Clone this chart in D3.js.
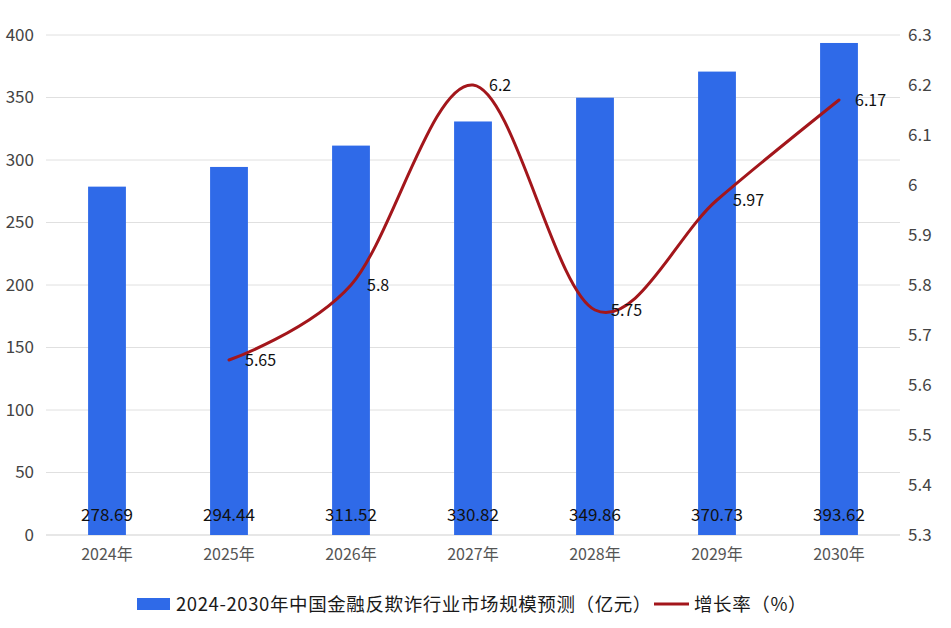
<!DOCTYPE html>
<html>
<head>
<meta charset="utf-8">
<script src="https://cdn.jsdelivr.net/npm/d3@7"></script>
<style>
  body { margin: 0; background: #fff; }
  text { font-family: "Noto Sans CJK SC", "Noto Sans", sans-serif; }
</style>
</head>
<body>
<div id="chart"></div>
<script>
// 数据
const years = ["2024年", "2025年", "2026年", "2027年", "2028年", "2029年", "2030年"];
const marketSize = [278.69, 294.44, 311.52, 330.82, 349.86, 370.73, 393.62];
const growthYears = ["2025年", "2026年", "2027年", "2028年", "2029年", "2030年"];
const growthRate = [5.65, 5.8, 6.2, 5.75, 5.97, 6.17];
const leftTicks = [0, 50, 100, 150, 200, 250, 300, 350, 400];
const rightTicks = [5.3, 5.4, 5.5, 5.6, 5.7, 5.8, 5.9, 6, 6.1, 6.2, 6.3];

const W = 951, H = 628;
const margin = { top: 35, right: 51, bottom: 93, left: 46 };
const width = W - margin.left - margin.right;
const height = H - margin.top - margin.bottom;

const svg = d3.select("#chart").append("svg")
    .attr("width", W)
    .attr("height", H);

const g = svg.append("g")
    .attr("transform", `translate(${margin.left},${margin.top})`);

// 比例尺
const x = d3.scaleBand().domain(years).range([0, width]).paddingInner(0.69).paddingOuter(0.345);
const yL = d3.scaleLinear().domain([0, 400]).range([height, 0]);
const yR = d3.scaleLinear().domain([5.3, 6.3]).range([height, 0]);

// 网格线
g.append("g").selectAll("line")
    .data(leftTicks)
    .enter().append("line")
    .attr("x1", 0).attr("x2", width)
    .attr("y1", d => yL(d)).attr("y2", d => yL(d))
    .attr("stroke", d => d === 0 ? "#cfcfcf" : "#e0e0e0")
    .attr("stroke-width", 1);

// 左轴
const axisL = g.append("g")
    .call(d3.axisLeft(yL).tickValues(leftTicks).tickSize(0).tickPadding(12));
axisL.select(".domain").remove();
axisL.selectAll("text").attr("font-size", 17).attr("fill", "#444");

// 右轴
const axisR = g.append("g")
    .attr("transform", `translate(${width},0)`)
    .call(d3.axisRight(yR).tickValues(rightTicks).tickSize(0).tickPadding(8).tickFormat(d3.format("")));
axisR.select(".domain").remove();
axisR.selectAll("text").attr("font-size", 17).attr("fill", "#444");

// X轴
const axisX = g.append("g")
    .attr("transform", `translate(0,${height})`)
    .call(d3.axisBottom(x).tickSize(0).tickPadding(14));
axisX.select(".domain").remove();
axisX.selectAll("text").attr("font-size", 16).attr("fill", "#555");

// 柱子
g.selectAll("rect.bar")
    .data(marketSize)
    .enter().append("rect")
    .attr("class", "bar")
    .attr("x", (d, i) => x(years[i]))
    .attr("y", d => yL(d))
    .attr("width", x.bandwidth())
    .attr("height", d => height - yL(d))
    .attr("fill", "#2f6ae8");

// 柱子数值
g.selectAll("text.barlabel")
    .data(marketSize)
    .enter().append("text")
    .attr("class", "barlabel")
    .attr("x", (d, i) => x(years[i]) + x.bandwidth() / 2)
    .attr("y", height - 14)
    .attr("text-anchor", "middle")
    .attr("font-size", 17)
    .attr("fill", "#111")
    .text(d => d.toFixed(2));

// 增长率折线
const line = d3.line()
    .x((d, i) => x(growthYears[i]) + x.bandwidth() / 2)
    .y(d => yR(d))
    .curve(d3.curveCatmullRom.alpha(0));

g.append("path")
    .datum(growthRate)
    .attr("fill", "none")
    .attr("stroke", "#a3161b")
    .attr("stroke-width", 3)
    .attr("stroke-linecap", "round")
    .attr("d", line);

g.selectAll("text.ratelabel")
    .data(growthRate)
    .enter().append("text")
    .attr("class", "ratelabel")
    .attr("x", (d, i) => x(growthYears[i]) + x.bandwidth() / 2 + 16)
    .attr("y", d => yR(d) + 6)
    .attr("font-size", 16)
    .attr("fill", "#111")
    .text(d => d);

// 图例
const legend = svg.append("g").attr("transform", "translate(0,604)");
legend.append("rect")
    .attr("x", 137).attr("y", -6)
    .attr("width", 33).attr("height", 12)
    .attr("fill", "#2f6ae8");
legend.append("text")
    .attr("x", 176).attr("y", 6.5)
    .attr("font-size", 18.5).attr("fill", "#1a1a1a")
    .attr("letter-spacing", 0.6)
    .text("2024-2030年中国金融反欺诈行业市场规模预测（亿元）");
legend.append("line")
    .attr("x1", 654).attr("x2", 689)
    .attr("y1", 0).attr("y2", 0)
    .attr("stroke", "#a3161b").attr("stroke-width", 3);
legend.append("text")
    .attr("x", 694).attr("y", 6.5)
    .attr("font-size", 18.5).attr("fill", "#1a1a1a")
    .attr("letter-spacing", 0.6)
    .text("增长率（%）");
</script>
</body>
</html>
